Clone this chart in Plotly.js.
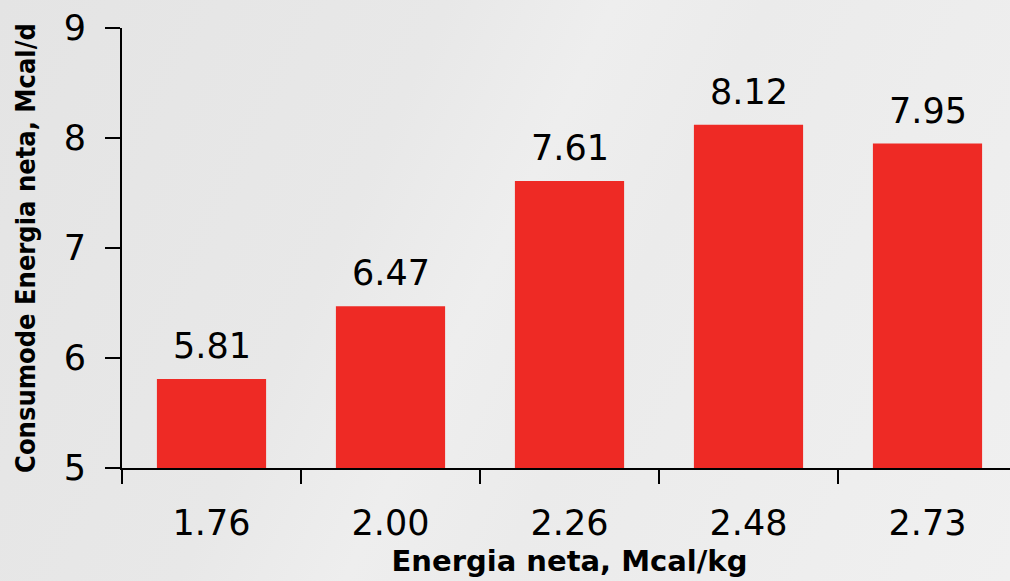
<!DOCTYPE html>
<html>
<head>
<meta charset="utf-8">
<script src="https://cdn.plot.ly/plotly-3.0.1.min.js"></script>
<style>
  html, body { margin: 0; padding: 0; width: 1010px; height: 581px; overflow: hidden; }
  body { background: linear-gradient(115deg, #e4e4e4 0%, #e8e8e8 35%, #eeeeee 48%, #ebebeb 60%, #f0f0f0 100%); }
  #chart { width: 1017px; height: 581px; }
</style>
</head>
<body>
<div id="chart"></div>
<script>
const categories = ["1.76", "2.00", "2.26", "2.48", "2.73"];
const values = [5.81, 6.47, 7.61, 8.12, 7.95];
const labels = ["5.81", "6.47", "7.61", "8.12", "7.95"];
const yTicks = [5, 6, 7, 8, 9];

const trace = {
  type: 'bar',
  x: categories,
  y: values,
  width: 0.61,
  marker: { color: '#ee2a25' },
  cliponaxis: false,
  hoverinfo: 'skip'
};

// category axis: annotation x given as category index
const annotations = categories.map((c, i) => ({
  x: i, y: values[i], xref: 'x', yref: 'y',
  text: labels[i], showarrow: false,
  xanchor: 'center', yanchor: 'bottom', yshift: 11,
  font: { family: 'DejaVu Sans', size: 35, color: '#000' }
}));

const layout = {
  width: 1017,
  height: 581,
  margin: { l: 122, r: 0, t: 28, b: 113 },
  paper_bgcolor: 'rgba(0,0,0,0)',
  plot_bgcolor: 'rgba(0,0,0,0)',
  showlegend: false,
  font: { family: 'DejaVu Sans', color: '#000' },
  annotations: annotations,
  xaxis: {
    type: 'category',
    showline: true, linecolor: '#000', linewidth: 2,
    ticks: 'outside', ticklen: 14, tickwidth: 2, tickcolor: '#000',
    tickson: 'boundaries',
    tickfont: { family: 'DejaVu Sans', size: 35, color: '#000' },
    ticklabelstandoff: 23,
    showgrid: false, zeroline: false,
    title: { text: 'Energia neta, Mcal/kg', font: { family: 'DejaVu Sans', size: 29, weight: 'bold', color: '#000' }, standoff: 9 },
    automargin: false
  },
  yaxis: {
    range: [5, 9],
    tickvals: yTicks,
    ticktext: yTicks.map(String),
    showline: true, linecolor: '#000', linewidth: 2,
    ticks: 'outside', ticklen: 15, tickwidth: 2, tickcolor: '#000',
    tickfont: { family: 'DejaVu Sans', size: 35, color: '#000' },
    ticklabelstandoff: 12,
    showgrid: false, zeroline: false,
    title: { text: 'Consumode Energia neta, Mcal/d', font: { family: 'DejaVu Sans Condensed, DejaVu Sans', size: 27, weight: 'bold', color: '#000' }, standoff: 20 },
    automargin: false
  }
};

Plotly.newPlot('chart', [trace], layout, { displayModeBar: false, staticPlot: true });
</script>
</body>
</html>
